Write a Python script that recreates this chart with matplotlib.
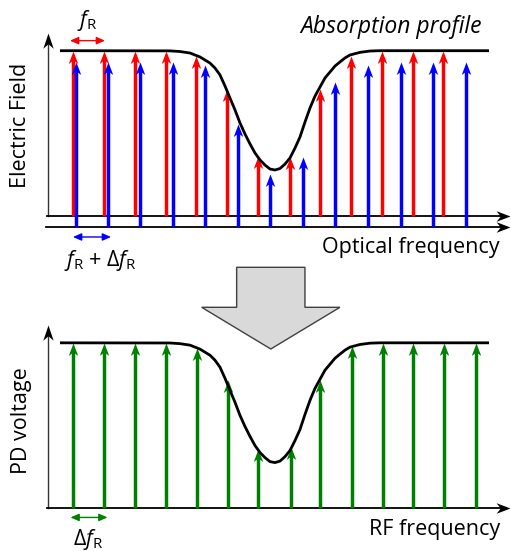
import numpy as np
import matplotlib.pyplot as plt
from matplotlib.path import Path
from matplotlib.patches import FancyArrow, FancyArrowPatch

plt.rcParams['font.family'] = ['Open Sans', 'DejaVu Sans']
plt.rcParams['mathtext.fontset'] = 'custom'
plt.rcParams['mathtext.rm'] = 'Open Sans'
plt.rcParams['mathtext.it'] = 'Open Sans:italic'

# optical comb 1 (red) and comb 2 (blue): frequency (a.u.), amplitude (1 = no absorption)
red_freq = [72.7, 103.8, 134.8, 165.6, 196.3, 227.4, 257.5, 289.5, 320.0, 350.8, 381.8, 412.8, 443.4]
red_amp = [1.0, 1.0, 1.0, 1.0, 0.97, 0.77, 0.36, 0.355, 0.77, 0.97, 1.0, 1.0, 1.0]
blue_freq = [76.0, 108.2, 140.4, 172.8, 205.0, 237.8, 270.2, 302.7, 335.0, 367.7, 400.6, 433.0, 466.0]
blue_amp = [1.0, 1.0, 1.0, 1.0, 0.98, 0.62, 0.32, 0.42, 0.88, 0.98, 1.0, 1.0, 1.0]
blue_base = -0.067

# RF comb after photodetection (green)
green_freq = [72.7, 104.0, 135.0, 165.7, 196.7, 227.7, 257.5, 290.7, 320.0, 351.7, 382.7, 413.3, 444.3, 475.7]
green_amp = [1.0, 1.0, 1.0, 1.0, 0.97, 0.775, 0.36, 0.37, 0.775, 0.98, 1.0, 1.0, 1.0, 1.0]

# absorption profile
prof_freq = [60, 170, 180, 190, 200, 210, 215, 220, 225, 230, 235, 240, 245, 250, 255, 260, 265,
             270, 275, 280, 285, 290, 295, 300, 305, 310, 315, 320, 325, 330, 335, 340, 345, 350,
             360, 370, 380, 489]
prof_amp = [1.0, 0.999, 0.995, 0.986, 0.962, 0.925, 0.895, 0.853, 0.786, 0.713, 0.641, 0.562,
            0.495, 0.435, 0.380, 0.338, 0.307, 0.283, 0.277, 0.286, 0.313, 0.350, 0.410, 0.477,
            0.568, 0.653, 0.725, 0.780, 0.835, 0.871, 0.907, 0.932, 0.956, 0.974, 0.990, 0.998,
            1.0, 1.0]

fig = plt.figure(figsize=(5.11, 5.51), dpi=100)
top = fig.add_axes([0, 0, 1, 1])
top.set_xlim(0, 511)
top.set_ylim(-2.0321, 1.3073)
bot = fig.add_axes([0, 0, 1, 1])
bot.set_xlim(0, 511)
bot.set_ylim(-0.2566, 3.0694)
ov = fig.add_axes([0, 0, 1, 1])
ov.set_xlim(0, 511)
ov.set_ylim(551, 0)
for a in (top, bot, ov):
    a.axis('off')

up_head = Path([(0, 0), (0.38, -1), (0, -0.72), (-0.38, -1), (0, 0)],
               [Path.MOVETO, Path.LINETO, Path.LINETO, Path.LINETO, Path.CLOSEPOLY])
ax_up = Path([(0, 0), (0.34, -1), (0, -0.7), (-0.34, -1), (0, 0)],
             [Path.MOVETO, Path.LINETO, Path.LINETO, Path.LINETO, Path.CLOSEPOLY])
ax_right = Path([(0, 0), (-1, 0.38), (-0.7, 0), (-1, -0.38), (0, 0)],
                [Path.MOVETO, Path.LINETO, Path.LINETO, Path.LINETO, Path.CLOSEPOLY])


def comb(ax, freq, amp, base, color):
    freq = np.array(freq)
    tips = base + np.array(amp)
    ax.vlines(freq, base, tips - 0.045, color=color, lw=2.5, zorder=3)
    ax.plot(freq, tips, ls='none', marker=up_head, ms=18, mew=0, color=color, zorder=4)


def axes_lines(ax, extra_base=None):
    ax.plot([47.5, 47.5], [0, 1.08], color='#333333', lw=1.0, zorder=2)
    ax.plot([47.5], [1.107], marker=ax_up, ms=22, mew=0, color='black', ls='none', zorder=2)
    ax.plot([46.5, 505], [0, 0], color='black', lw=1.3, zorder=2)
    ax.plot([510], [0], marker=ax_right, ms=20, mew=0, color='black', ls='none', zorder=2)
    if extra_base is not None:
        ax.plot([46, 505], [extra_base, extra_base], color='black', lw=1.3, zorder=2)
        ax.plot([510], [extra_base], marker=ax_right, ms=20, mew=0, color='black', ls='none', zorder=2)


def spacing(ax, x0, x1, y, color):
    ax.add_patch(FancyArrowPatch((x0, y), (x1, y), arrowstyle='<|-|>,head_length=0.5,head_width=0.22',
                                 mutation_scale=10, color=color, lw=1.0, shrinkA=0, shrinkB=0))


# top panel: optical domain
axes_lines(top, blue_base)
top.plot(prof_freq, prof_amp, color='black', lw=2.0, zorder=5, solid_capstyle='butt')
comb(top, red_freq, red_amp, 0, '#ff0000')
comb(top, blue_freq, blue_amp, blue_base, '#0000ff')
spacing(top, 70, 105, 1.061, '#ff0000')
spacing(top, 73, 111, -0.129, '#0000ff')

# bottom panel: RF domain
axes_lines(bot)
bot.plot(prof_freq, prof_amp, color='black', lw=2.0, zorder=5, solid_capstyle='butt')
comb(bot, green_freq, green_amp, 0, '#008000')
spacing(bot, 70.5, 107.5, -0.054, '#008000')

# big down arrow between panels
ov.add_patch(FancyArrow(270.8, 267.3, 0, 81.7, width=68.3, head_width=138.3, head_length=41.7,
                        length_includes_head=True, fc='#d9d9d9', ec='#404040', lw=1.0))

fs = 15.5
ov.text(87, 26, r'$f_\mathrm{R}$', ha='center', va='baseline', fontsize=fs)
ov.text(391, 33, 'Absorption profile', ha='center', va='baseline', fontsize=16.5, style='italic')
ov.text(21, 125, 'Electric Field', ha='center', va='center', rotation=90, fontsize=fs)
ov.text(411, 253, 'Optical frequency', ha='center', va='baseline', fontsize=fs)
ov.text(100, 266, r'$f_\mathrm{R}$ + $\Delta f_\mathrm{R}$', ha='center', va='baseline', fontsize=fs)
ov.text(22, 421, 'PD voltage', ha='center', va='center', rotation=90, fontsize=fs)
ov.text(88, 545, r'$\Delta f_\mathrm{R}$', ha='center', va='baseline', fontsize=fs)
ov.text(435, 535, 'RF frequency', ha='center', va='baseline', fontsize=fs)

fig.savefig('out.png', dpi=100)
